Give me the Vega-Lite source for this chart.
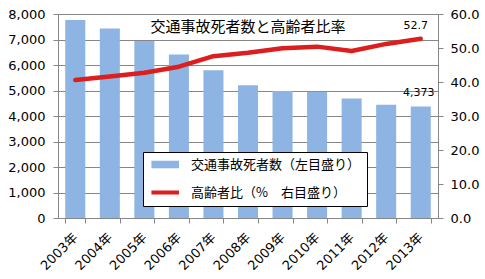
{
  "$schema": "https://vega.github.io/schema/vega-lite/v6.json",
  "autosize": {"type": "none"},
  "width": 380,
  "height": 204,
  "padding": {"left": 58, "top": 14, "right": 47, "bottom": 61},
  "background": "white",
  "title": {
    "text": "交通事故死者数と高齢者比率",
    "font": "Noto Sans CJK JP",
    "fontSize": 15,
    "fontWeight": "normal",
    "color": "#000000",
    "anchor": "middle",
    "offset": -27
  },
  "config": {
    "view": {"stroke": null},
    "axis": {
      "labelFont": "DejaVu Sans, Noto Sans CJK JP",
      "labelFontSize": 13,
      "labelColor": "#000000",
      "labelOverlap": false,
      "domainColor": "#868686",
      "tickColor": "#868686",
      "gridColor": "#868686",
      "gridOpacity": 1,
      "tickSize": 5,
      "title": null
    }
  },
  "data": {
    "values": [
      {"year": "2003年", "deaths": 7768, "ratio": 40.6},
      {"year": "2004年", "deaths": 7436, "ratio": 41.6},
      {"year": "2005年", "deaths": 6937, "ratio": 42.7},
      {"year": "2006年", "deaths": 6415, "ratio": 44.5},
      {"year": "2007年", "deaths": 5796, "ratio": 47.6},
      {"year": "2008年", "deaths": 5209, "ratio": 48.6},
      {"year": "2009年", "deaths": 4979, "ratio": 49.9},
      {"year": "2010年", "deaths": 4948, "ratio": 50.4},
      {"year": "2011年", "deaths": 4691, "ratio": 49.1},
      {"year": "2012年", "deaths": 4438, "ratio": 51.2},
      {"year": "2013年", "deaths": 4373, "ratio": 52.7}
    ]
  },
  "encoding": {
    "x": {
      "field": "year",
      "type": "ordinal",
      "scale": {"paddingInner": 0.42, "paddingOuter": 0.21},
      "axis": {
        "labelAngle": -45,
        "labelAlign": "right",
        "labelBaseline": "middle",
        "labelPadding": 12,
        "tickBand": "extent",
        "domain": true
      }
    }
  },
  "layer": [
    {
      "encoding": {
        "y": {
          "field": "deaths",
          "type": "quantitative",
          "scale": {"domain": [0, 8000], "nice": false},
          "axis": {
            "orient": "left",
            "values": [0, 1000, 2000, 3000, 4000, 5000, 6000, 7000, 8000],
            "format": ",d",
            "grid": true,
            "labelPadding": 8
          }
        }
      },
      "layer": [
        {
          "mark": {"type": "bar", "color": "#8db4e2"},
          "encoding": {
            "color": {
              "datum": "交通事故死者数（左目盛り）",
              "type": "nominal",
              "scale": {
                "domain": ["交通事故死者数（左目盛り）", "高齢者比（%　右目盛り）"],
                "range": ["#8db4e2", "#dc1e1e"]
              },
              "legend": {
                "orient": "none",
                "legendX": 85,
                "legendY": 138,
                "title": null,
                "fillColor": "white",
                "strokeColor": "#000000",
                "padding": 6,
                "rowPadding": 14,
                "symbolSize": 169,
                "symbolOffset": 9.7,
                "labelOffset": 19.4,
                "labelFont": "Noto Sans CJK JP",
                "labelFontSize": 13,
                "labelColor": "#000000",
                "labelLimit": 300,
                "encode": {
                  "symbols": {
                    "update": {
                      "shape": {"signal": "datum.value === '交通事故死者数（左目盛り）' ? 'M-2.12,-0.58H2.12V0.58H-2.12Z' : 'M-2.12,-0.31H2.12V0.31H-2.12Z'"},
                      "fill": {"signal": "datum.value === '交通事故死者数（左目盛り）' ? '#8db4e2' : '#dc1e1e'"},
                      "stroke": {"value": "transparent"},
                      "strokeWidth": {"value": 0},
                      "opacity": {"value": 1}
                    }
                  }
                }
              }
            }
          }
        },
        {
          "transform": [{"filter": "datum.year === '2013年'"}],
          "mark": {"type": "text", "font": "DejaVu Sans", "fontSize": 11, "color": "#000000", "baseline": "alphabetic", "dy": -10, "dx": -2},
          "encoding": {
            "text": {"field": "deaths", "type": "quantitative", "format": ",d"}
          }
        }
      ]
    },
    {
      "encoding": {
        "y": {
          "field": "ratio",
          "type": "quantitative",
          "scale": {"domain": [0, 60], "nice": false},
          "axis": {
            "orient": "right",
            "values": [0, 10, 20, 30, 40, 50, 60],
            "format": ".1f",
            "grid": false,
            "labelPadding": 7
          }
        }
      },
      "layer": [
        {
          "mark": {"type": "line", "strokeWidth": 4.5, "strokeCap": "round", "strokeJoin": "round"},
          "encoding": {
            "color": {
              "datum": "高齢者比（%　右目盛り）",
              "type": "nominal"
            }
          }
        },
        {
          "transform": [{"filter": "datum.year === '2013年'"}],
          "mark": {"type": "text", "font": "DejaVu Sans", "fontSize": 11, "color": "#000000", "baseline": "alphabetic", "dy": -10, "dx": -5},
          "encoding": {
            "text": {"field": "ratio", "type": "quantitative", "format": ".1f"}
          }
        }
      ]
    }
  ],
  "resolve": {"scale": {"y": "independent"}}
}
